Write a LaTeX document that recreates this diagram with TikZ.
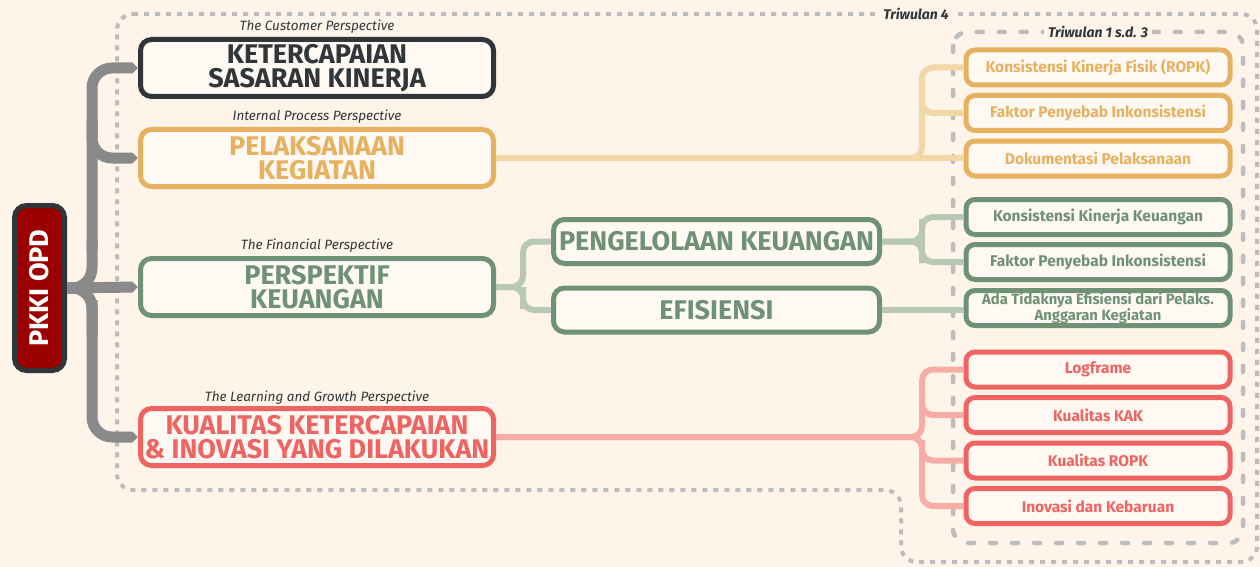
\documentclass[tikz,border=0pt]{standalone}
\usepackage{fontspec}
\setmainfont{Fira Sans}
\usetikzlibrary{arrows.meta}

\definecolor{paper}{HTML}{FEF4E9}
\definecolor{boxfill}{HTML}{FFF9F3}
\definecolor{inkdark}{HTML}{30363A}
\definecolor{inkorange}{HTML}{E6B161}
\definecolor{inkgreen}{HTML}{6F9175}
\definecolor{inkred}{HTML}{EF6462}
\definecolor{lineorange}{HTML}{F3D7A6}
\definecolor{linegreen}{HTML}{B8C8B4}
\definecolor{linered}{HTML}{F8ACA6}
\definecolor{trunkgray}{HTML}{8A8A8A}
\definecolor{framegray}{HTML}{BDBDBD}
\definecolor{rootred}{HTML}{9A0000}

\tikzset{
    bigbox/.style={draw=#1, text=#1, fill=boxfill, line width=5pt, rounded corners=11pt,
        minimum width=353pt, minimum height=57pt, inner sep=0pt, align=center,
        font=\bfseries\fontsize{27}{24.5}\selectfont},
    midbox/.style={bigbox=#1, minimum width=326pt, minimum height=44pt},
    smallbox/.style={draw=#1, text=#1, fill=boxfill, line width=5pt, rounded corners=9pt,
        minimum width=264pt, minimum height=35pt, inner sep=0pt, align=center,
        font=\bfseries\fontsize{15.5}{14.5}\selectfont},
    persp/.style={text=inkdark, font=\itshape\fontsize{13.5}{14}\selectfont},
    period/.style={text=inkdark, fill=paper, inner sep=4pt, font=\bfseries\itshape\fontsize{14}{14}\selectfont},
    trunk/.style={draw=trunkgray, line width=11pt, rounded corners=20pt},
    twig/.style={trunk, -{Triangle[length=6pt,width=11pt]}},
    link/.style={draw=#1, line width=6pt, rounded corners=11pt},
    dotframe/.style={draw=framegray, line width=4pt, dash pattern=on 5pt off 6pt, rounded corners=16pt},
    dashframe/.style={draw=framegray, line width=4.5pt, line cap=round, dash pattern=on 6pt off 16pt, rounded corners=14pt},
}

\begin{document}
\begin{tikzpicture}[x=1pt, y=-1pt]
        % Draw paper background
        \useasboundingbox (0,0) rectangle (1260,567);
        \fill[paper] (0,0) rectangle (1260,567);
        % Draw the two period frames
        \draw[dotframe] (117,14) -- (1257,14) -- (1257,562) -- (901,562) -- (901,490) -- (117,490) -- cycle;
        \draw[dashframe] (953,32) rectangle (1243,543);
        \node[period] (tw4) at (916,14) {Triwulan 4};
        \node[period] (tw13) at (1098,32) {Triwulan 1 s.d. 3};
        % Draw root
        \node[draw=inkdark, fill=rootred, text=white, line width=5pt, rounded corners=12pt,
              minimum width=50pt, minimum height=165pt, inner sep=0pt,
              font=\bfseries\fontsize{27}{27}\selectfont] (root) at (39.5,288) {\rotatebox{90}{PKKI OPD}};
        % Draw the four perspectives
        \node[persp] (cap1) at (317,27) {The Customer Perspective};
        \node[bigbox=inkdark] (cust) at (317,68) {KETERCAPAIAN\\SASARAN KINERJA};
        \node[persp] (cap2) at (317,117) {Internal Process Perspective};
        \node[bigbox=inkorange] (proc) at (317,158) {PELAKSANAAN\\KEGIATAN};
        \node[persp] (cap3) at (317,246) {The Financial Perspective};
        \node[bigbox=inkgreen] (fin) at (317,287) {PERSPEKTIF\\KEUANGAN};
        \node[persp] (cap4) at (317,398) {The Learning and Growth Perspective};
        \node[bigbox=inkred] (learn) at (317,437) {KUALITAS KETERCAPAIAN\\\& INOVASI YANG DILAKUKAN};
        % Draw financial sub-items
        \node[midbox=inkgreen] (peng) at (716.5,241.5) {PENGELOLAAN KEUANGAN};
        \node[midbox=inkgreen] (efis) at (716.5,310) {EFISIENSI};
        % Draw quarterly items
        \node[smallbox=inkorange] (ok1) at (1098,67.5) {Konsistensi Kinerja Fisik (ROPK)};
        \node[smallbox=inkorange] (ok2) at (1098,113) {Faktor Penyebab Inkonsistensi};
        \node[smallbox=inkorange] (ok3) at (1098,158.5) {Dokumentasi Pelaksanaan};
        \node[smallbox=inkgreen] (gk1) at (1098,217) {Konsistensi Kinerja Keuangan};
        \node[smallbox=inkgreen] (gk2) at (1098,262) {Faktor Penyebab Inkonsistensi};
        \node[smallbox=inkgreen, font=\bfseries\fontsize{14.8}{14.5}\selectfont] (gk3) at (1098,308) {Ada Tidaknya Efisiensi dari Pelaks.\\Anggaran Kegiatan};
        \node[smallbox=inkred] (rk1) at (1098,369.5) {Logframe};
        \node[smallbox=inkred] (rk2) at (1098,415) {Kualitas KAK};
        \node[smallbox=inkred] (rk3) at (1098,460.5) {Kualitas ROPK};
        \node[smallbox=inkred] (rk4) at (1098,506) {Inovasi dan Kebaruan};
        % Draw gray trunk from root
        \draw[trunk] (root.east) -| (92,240);
        \draw[trunk] (root.east) -| (92,335);
        \draw[twig] (92,250) |- (cust.west);
        \draw[twig] (92,120) |- (proc.west);
        \draw[twig] (root.east) -- (fin.west);
        \draw[twig] (92,300) |- (learn.west);
        % Draw light links
        \draw[link=lineorange] (proc.east) -| (922,100) |- (ok1.west);
        \draw[link=lineorange] (922,90) |- (ok2.west);
        \draw[link=lineorange] (proc.east) -- (proc.east -| ok3.west);
        \draw[link=linegreen] (fin.east) -| (523,265) |- (peng.west);
        \draw[link=linegreen] (fin.east) -| (523,298) |- (efis.west);
        \draw[link=linegreen] (peng.east) -| (922,230) |- (gk1.west);
        \draw[link=linegreen] (peng.east) -| (922,252) |- (gk2.west);
        \draw[link=linegreen] (efis.east) -- (efis.east -| gk3.west);
        \draw[link=linered] (learn.east) -| (922,400) |- (rk1.west);
        \draw[link=linered] (922,395) |- (rk2.west);
        \draw[link=linered] (922,440) |- (rk3.west);
        \draw[link=linered] (learn.east) -| (922,480) |- (rk4.west);
    \end{tikzpicture}
\end{document}
